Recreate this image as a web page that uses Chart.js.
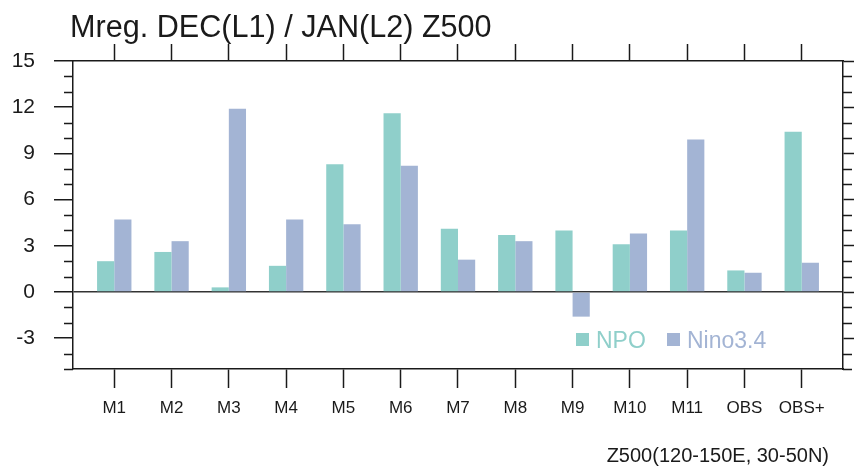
<!DOCTYPE html>
<html>
<head>
<meta charset="utf-8">
<script src="https://cdn.jsdelivr.net/npm/chart.js@4.4.1/dist/chart.umd.min.js"></script>
<style>
  html, body { margin: 0; padding: 0; background: #ffffff; }
  #c { display: block; }
</style>
</head>
<body>
<canvas id="c" width="854" height="469"></canvas>
<script>
// Models and observation sets along the x axis
const categories = ['M1', 'M2', 'M3', 'M4', 'M5', 'M6', 'M7', 'M8', 'M9', 'M10', 'M11', 'OBS', 'OBS+'];
// Regression of Z500 onto each index
const npoValues  = [2.0, 2.6, 0.3, 1.7, 8.3, 11.6, 4.1, 3.7, 4.0, 3.1, 4.0, 1.4, 10.4];
const ninoValues = [4.7, 3.3, 11.9, 4.7, 4.4, 8.2, 2.1, 3.3, -1.6, 3.8, 9.9, 1.25, 1.9];
const seriesNames = ['NPO', 'Nino3.4'];
const yTicks = [-3, 0, 3, 6, 9, 12, 15];
const yMinorTicks = [-5, -4, -2, -1, 1, 2, 4, 5, 7, 8, 10, 11, 13, 14];
const titleText = 'Mreg. DEC(L1) / JAN(L2) Z500';
const xAxisTitle = 'Z500(120-150E, 30-50N)';

const FONT = '"Liberation Sans", Arial, Helvetica, sans-serif';
const INK = '#1a1a1a';
const COLORS = ['#8fcfca', '#a3b4d4'];

const xRange = { min: -0.72, max: 12.72 };
const categoryTicks = s => { s.ticks = categories.map((c, i) => ({ value: i })); };
const valueTicks = s => { s.ticks = yTicks.map(v => ({ value: v })); };

const frame = { display: true, color: INK, width: 1.5 };

// Titles, legend and minor ticks drawn on top of the chart
const decorations = {
  id: 'decorations',
  afterDraw(chart) {
    const ctx = chart.ctx;
    const area = chart.chartArea;
    const y = chart.scales.y;
    ctx.save();

    // minor ticks, outward on left and right frame
    ctx.strokeStyle = INK;
    ctx.lineWidth = 1.5;
    ctx.beginPath();
    yMinorTicks.forEach(v => {
      const py = Math.round(y.getPixelForValue(v)) + 0.5;
      ctx.moveTo(area.left - 9, py); ctx.lineTo(area.left, py);
      ctx.moveTo(area.right, py); ctx.lineTo(area.right + 9, py);
    });
    ctx.stroke();

    // title
    ctx.fillStyle = INK;
    ctx.font = '30.6px ' + FONT;
    ctx.textAlign = 'left';
    ctx.textBaseline = 'alphabetic';
    ctx.fillText(titleText, area.left - 3, 37);

    // axis caption at lower right
    ctx.font = '20px ' + FONT;
    ctx.textAlign = 'right';
    ctx.fillText(xAxisTitle, area.right - 14, 462);

    // legend inside the plot
    ctx.font = '23px ' + FONT;
    ctx.textAlign = 'left';
    const lx = [area.left + 503, area.left + 594];
    chart.data.datasets.forEach((ds, i) => {
      ctx.fillStyle = ds.backgroundColor;
      ctx.fillRect(lx[i], 333, 13, 13);
      ctx.fillText(ds.label, lx[i] + 20, 348);
    });
    ctx.restore();
  }
};

new Chart(document.getElementById('c'), {
  type: 'bar',
  data: {
    datasets: [
      { label: seriesNames[0], data: npoValues.map((v, i) => ({ x: i, y: v })), backgroundColor: COLORS[0], borderWidth: 0 },
      { label: seriesNames[1], data: ninoValues.map((v, i) => ({ x: i, y: v })), backgroundColor: COLORS[1], borderWidth: 0 }
    ]
  },
  options: {
    responsive: false,
    animation: false,
    devicePixelRatio: 1,
    layout: { padding: 0 },
    datasets: { bar: { categoryPercentage: 0.6, barPercentage: 1.0 } },
    plugins: { legend: { display: false }, title: { display: false }, tooltip: { enabled: false } },
    scales: {
      x: {
        type: 'linear', position: 'bottom', min: xRange.min, max: xRange.max, offset: false,
        afterBuildTicks: categoryTicks,
        afterFit: s => { s.height = 100; },
        ticks: {
          autoSkip: false, maxRotation: 0, padding: 10, color: INK,
          font: { family: FONT, size: 17 },
          callback: v => categories[Math.round(v)]
        },
        grid: { offset: false, drawOnChartArea: false, drawTicks: true, tickLength: 19, tickColor: INK, tickWidth: 1.5 },
        border: frame
      },
      x2: {
        type: 'linear', position: 'top', min: xRange.min, max: xRange.max, offset: false,
        afterBuildTicks: categoryTicks,
        afterFit: s => { s.height = 61; },
        ticks: { display: false },
        grid: { offset: false, drawOnChartArea: false, drawTicks: true, tickLength: 17, tickColor: INK, tickWidth: 1.5 },
        border: frame
      },
      y: {
        type: 'linear', position: 'left', min: -5, max: 15, z: 1,
        afterBuildTicks: valueTicks,
        afterFit: s => { s.width = 73; },
        ticks: { padding: 19, color: INK, font: { family: FONT, size: 21 } },
        grid: {
          drawOnChartArea: true, drawTicks: true, tickLength: 19, tickColor: INK, tickWidth: 1.5,
          color: c => (c.tick && c.tick.value === 0 ? '#333333' : 'rgba(0,0,0,0)'),
          lineWidth: 1.5
        },
        border: frame
      },
      y2: {
        type: 'linear', position: 'right', min: -5, max: 15,
        afterBuildTicks: valueTicks,
        afterFit: s => { s.width = 11; },
        ticks: { display: false },
        grid: { drawOnChartArea: false, drawTicks: true, tickLength: 11, tickColor: INK, tickWidth: 1.5 },
        border: frame
      }
    }
  },
  plugins: [decorations]
});
</script>
</body>
</html>
